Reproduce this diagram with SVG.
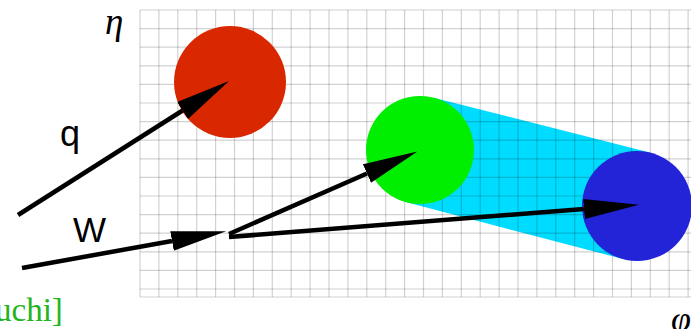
<svg xmlns="http://www.w3.org/2000/svg" width="691" height="329" viewBox="0 0 691 329">
<style>
.grid line{stroke:#000;stroke-opacity:0.18;stroke-width:1.2}
.conn{stroke:#000;stroke-width:4.5;fill:none;marker-end:url(#ah)}
.lbl{font-family:"Liberation Sans",Arial,sans-serif;fill:#000}
.sym{font-family:"Liberation Serif","Times New Roman",serif;font-style:italic;fill:#000}
</style>
<defs>
<marker id="ah" markerUnits="userSpaceOnUse" viewBox="0 -11 56 22" markerWidth="56" markerHeight="22" refX="0" refY="0" orient="auto">
<path d="M0,-10 L55,0 L0,10 Z" fill="#000"/>
</marker>
</defs>
<rect width="691" height="329" fill="#fff"/>
<g id="band">
<polygon points="433.5,97.7 650.75,152.8 623,259 406.5,202.3" fill="#00dcff"/>
</g>
<g class="grid" id="grid">
<line x1="140" y1="10" x2="140" y2="297"/>
<line x1="158.9" y1="10" x2="158.9" y2="297"/>
<line x1="177.8" y1="10" x2="177.8" y2="297"/>
<line x1="196.7" y1="10" x2="196.7" y2="297"/>
<line x1="215.6" y1="10" x2="215.6" y2="297"/>
<line x1="234.5" y1="10" x2="234.5" y2="297"/>
<line x1="253.4" y1="10" x2="253.4" y2="297"/>
<line x1="272.3" y1="10" x2="272.3" y2="297"/>
<line x1="291.2" y1="10" x2="291.2" y2="297"/>
<line x1="310.1" y1="10" x2="310.1" y2="297"/>
<line x1="329" y1="10" x2="329" y2="297"/>
<line x1="347.9" y1="10" x2="347.9" y2="297"/>
<line x1="366.8" y1="10" x2="366.8" y2="297"/>
<line x1="385.7" y1="10" x2="385.7" y2="297"/>
<line x1="404.6" y1="10" x2="404.6" y2="297"/>
<line x1="423.5" y1="10" x2="423.5" y2="297"/>
<line x1="442.4" y1="10" x2="442.4" y2="297"/>
<line x1="461.3" y1="10" x2="461.3" y2="297"/>
<line x1="480.2" y1="10" x2="480.2" y2="297"/>
<line x1="499.1" y1="10" x2="499.1" y2="297"/>
<line x1="518" y1="10" x2="518" y2="297"/>
<line x1="536.9" y1="10" x2="536.9" y2="297"/>
<line x1="555.8" y1="10" x2="555.8" y2="297"/>
<line x1="574.7" y1="10" x2="574.7" y2="297"/>
<line x1="593.6" y1="10" x2="593.6" y2="297"/>
<line x1="612.5" y1="10" x2="612.5" y2="297"/>
<line x1="631.4" y1="10" x2="631.4" y2="297"/>
<line x1="650.3" y1="10" x2="650.3" y2="297"/>
<line x1="669.2" y1="10" x2="669.2" y2="297"/>
<line x1="688.1" y1="10" x2="688.1" y2="297"/>
<line x1="140" y1="10" x2="691" y2="10"/>
<line x1="140" y1="28.6" x2="691" y2="28.6"/>
<line x1="140" y1="47.2" x2="691" y2="47.2"/>
<line x1="140" y1="65.8" x2="691" y2="65.8"/>
<line x1="140" y1="84.4" x2="691" y2="84.4"/>
<line x1="140" y1="103" x2="691" y2="103"/>
<line x1="140" y1="121.6" x2="691" y2="121.6"/>
<line x1="140" y1="140.2" x2="691" y2="140.2"/>
<line x1="140" y1="158.8" x2="691" y2="158.8"/>
<line x1="140" y1="177.4" x2="691" y2="177.4"/>
<line x1="140" y1="196" x2="691" y2="196"/>
<line x1="140" y1="214.6" x2="691" y2="214.6"/>
<line x1="140" y1="233.2" x2="691" y2="233.2"/>
<line x1="140" y1="251.8" x2="691" y2="251.8"/>
<line x1="140" y1="270.4" x2="691" y2="270.4"/>
<line x1="140" y1="289" x2="691" y2="289"/>
<line x1="140" y1="297" x2="691" y2="297"/>
</g>
<g id="red">
<circle cx="230" cy="82" r="56" fill="#d92800"/>
</g>
<g id="green">
<circle cx="420" cy="150" r="54" fill="#00ee00"/>
</g>
<g id="blue">
<circle cx="637" cy="206" r="55" fill="#2323d8"/>
</g>
<g id="connectors">
<path class="conn" d="M18,215 L182.6,110.5"/>
<path class="conn" d="M22,268 L172,241"/>
<path class="conn" d="M229,234 L367,173.5"/>
<path class="conn" d="M229,237 L584,209"/>
</g>
<g id="labels">
<text class="sym" x="105" y="34" font-size="37">η</text>
<text class="lbl" x="60" y="146" font-size="36">q</text>
<text class="lbl" x="73" y="242" font-size="35">W</text>
<text x="-5" y="321" font-size="33" font-family="'Liberation Serif','Times New Roman',serif" fill="#22b422">uchi]</text>
<text class="sym" x="671" y="331" font-size="36">φ</text>
</g>
</svg>
